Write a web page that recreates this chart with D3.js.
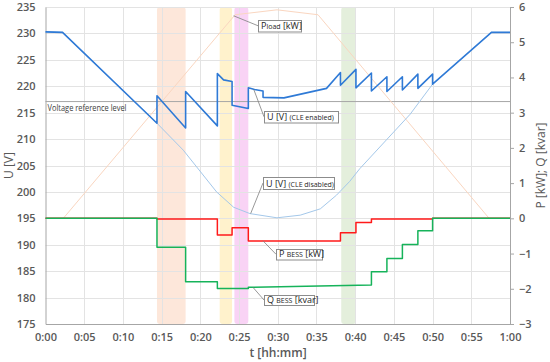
<!DOCTYPE html>
<html>
<head>
<meta charset="utf-8">
<script src="https://cdn.jsdelivr.net/npm/d3@7"></script>
<style>
body { margin: 0; background: #fff; }
text { font-family: "Open Sans", sans-serif; }
</style>
</head>
<body>
<svg></svg>
<script>
// time in minutes, U in volts, P/Q in kW / kvar
var uEnabledT = [0, 2.2, 14.4, 14.4, 18.1, 18.1, 22.2, 22.2, 23.0, 24.1, 24.1, 26.2, 26.2, 27.0, 28.1, 28.1, 30.8, 36.3, 38.1, 38.1, 40.1, 40.1, 42.1, 42.1, 44.1, 44.1, 46.1, 46.1, 48.1, 48.1, 50.0, 50.0, 57.6, 60];
var uEnabledV = [230.3, 230.2, 213.0, 218.2, 212.1, 219.0, 212.5, 222.4, 221.2, 220.9, 216.4, 215.8, 219.7, 219.4, 219.1, 217.9, 217.8, 219.6, 222.6, 220.2, 223.2, 219.7, 222.5, 219.1, 221.8, 219.0, 221.8, 219.3, 222.3, 219.6, 222.3, 220.4, 230.2, 230.2];

var uDisabledT = [0, 2.2, 14.4, 17.8, 22.1, 24.3, 26.4, 29.9, 32.9, 35.5, 37.6, 39.3, 40.6, 47.1, 50.0, 57.6, 60];
var uDisabledV = [230.3, 230.2, 213.0, 207.9, 200.0, 197.1, 195.9, 195.1, 195.6, 196.8, 199.4, 202.0, 204.4, 214.7, 220.4, 230.2, 230.2];

var pLoadT = [0, 2.3, 24.5, 29.9, 35.2, 57.3, 60];
var pLoadV = [0, 0, 5.78, 5.92, 5.78, 0, 0];

var pBessT = [0, 14.4, 14.4, 22.2, 22.2, 24.1, 24.1, 26.2, 26.2, 38.1, 38.1, 40.1, 40.1, 42.1, 42.1, 50.0, 50.0, 60];
var pBessV = [0, 0, -0.02, -0.02, -0.47, -0.47, -0.27, -0.27, -0.64, -0.64, -0.41, -0.41, -0.12, -0.12, -0.02, -0.02, 0, 0];

var qBessT = [0, 14.4, 14.4, 18.1, 18.1, 22.2, 22.2, 26.2, 26.2, 42.1, 42.1, 44.1, 44.1, 46.1, 46.1, 48.1, 48.1, 50.0, 50.0, 60];
var qBessV = [0, 0, -0.82, -0.82, -1.80, -1.80, -1.99, -1.99, -1.96, -1.89, -1.52, -1.52, -1.14, -1.14, -0.74, -0.74, -0.35, -0.35, 0, 0];

var voltageReference = 217.1;

var bandStart = [14.4, 22.5, 24.4, 38.2];
var bandEnd = [18.1, 24.1, 26.2, 40.1];
var bandColor = ['#fde7da', '#fff2cc', '#f9d3f5', '#e4efdc'];

var xTicks = d3.range(0, 61, 5);
var uTicks = d3.range(175, 236, 5);
var pTicks = d3.range(-3, 7, 1);

//Setting up general variables
var width = 550;
var height = 362;
var plotLeft = 45.5, plotRight = 510, plotTop = 7, plotBottom = 324;
var labelFont = '"Liberation Sans", Arial, sans-serif';

var svg = d3.select('svg').attr('width', width).attr('height', height);

var x = d3.scaleLinear().domain([0, 60]).range([plotLeft, plotRight]);
var yU = d3.scaleLinear().domain([175, 235]).range([plotBottom, plotTop]);
var yP = d3.scaleLinear().domain([-3, 6]).range([plotBottom, plotTop]);

var fmtTime = m => Math.floor(m / 60) + ':' + d3.format('02d')(m % 60);

// highlighted intervals
svg.append('g').selectAll('rect')
    .data(bandStart)
    .enter().append('rect')
        .attr('x', (d, i) => x(d))
        .attr('y', plotTop)
        .attr('width', (d, i) => x(bandEnd[i]) - x(d))
        .attr('height', plotBottom - plotTop)
        .attr('rx', 3)
        .attr('fill', (d, i) => bandColor[i]);

// grid
var grid = svg.append('g').attr('stroke', '#e3e3e3').attr('stroke-width', 1);
grid.selectAll('.hg').data(uTicks.slice(1)).enter().append('line')
    .attr('x1', plotLeft).attr('x2', plotRight)
    .attr('y1', d => Math.round(yU(d)) + 0.5).attr('y2', d => Math.round(yU(d)) + 0.5);
grid.selectAll('.vg').data(xTicks.slice(1, -1)).enter().append('line')
    .attr('y1', plotTop).attr('y2', plotBottom)
    .attr('x1', d => Math.round(x(d)) + 0.5).attr('x2', d => Math.round(x(d)) + 0.5);

// voltage reference level
svg.append('line')
    .attr('x1', plotLeft).attr('x2', plotRight)
    .attr('y1', yU(voltageReference)).attr('y2', yU(voltageReference))
    .attr('stroke', '#a6a6a6').attr('stroke-width', 1);
svg.append('text')
    .attr('x', plotLeft + 2).attr('y', yU(voltageReference) + 9.5)
    .attr('font-family', labelFont)
    .attr('font-size', 9).attr('fill', '#404040')
    .attr('textLength', 79).attr('lengthAdjust', 'spacingAndGlyphs')
    .text('Voltage reference level');

// axes
var axisColor = '#a6a6a6';
var xAxis = svg.append('g').attr('transform', `translate(0, ${plotBottom})`)
    .call(d3.axisBottom(x).tickValues(xTicks).tickFormat(fmtTime).tickSize(0).tickPadding(9));
var uAxis = svg.append('g').attr('transform', `translate(${plotLeft}, 0)`)
    .call(d3.axisLeft(yU).tickValues(uTicks).tickSize(0).tickPadding(10));
var pAxis = svg.append('g').attr('transform', `translate(${plotRight}, 0)`)
    .call(d3.axisRight(yP).tickValues(pTicks).tickSize(4).tickPadding(5));

[xAxis, uAxis, pAxis].forEach(a => {
    a.select('.domain').attr('stroke', axisColor);
    a.selectAll('.tick line').attr('stroke', axisColor);
    a.selectAll('text')
        .attr('font-family', '"Open Sans", sans-serif')
        .attr('font-size', 11)
        .attr('font-weight', 600)
        .attr('fill', '#595959');
});

// axis titles
svg.append('text')
    .attr('transform', `translate(13, ${(plotTop + plotBottom) / 2}) rotate(-90)`)
    .attr('text-anchor', 'middle').attr('font-size', 12).attr('fill', '#595959')
    .text('U [V]');
svg.append('text')
    .attr('transform', `translate(545, ${(plotTop + plotBottom) / 2}) rotate(-90)`)
    .attr('text-anchor', 'middle').attr('font-size', 12).attr('fill', '#595959')
    .text('P [kW]; Q [kvar]');
svg.append('text')
    .attr('x', 278).attr('y', 357)
    .attr('text-anchor', 'middle').attr('font-size', 12).attr('font-weight', 600).attr('fill', '#595959')
    .text('t [hh:mm]');

// series
function drawLine(ts, vs, y, color, w) {
    var line = d3.line().x(i => x(ts[i])).y(i => y(vs[i]));
    svg.append('path')
        .attr('d', line(d3.range(ts.length)))
        .attr('fill', 'none')
        .attr('stroke', color)
        .attr('stroke-width', w)
        .attr('stroke-linejoin', 'round');
}

drawLine(pLoadT, pLoadV, yP, '#fad6c0', 1);
drawLine(uDisabledT, uDisabledV, yU, '#a4c8ea', 1);
drawLine(pBessT, pBessV, yP, '#ff1a1a', 1.5);
drawLine(qBessT, qBessV, yP, '#16b35a', 1.5);
drawLine(uEnabledT, uEnabledV, yU, '#2f7ad6', 1.6);

// callouts
function callout(ax, ay, bx, by, bw, bh, parts) {
    var g = svg.append('g');
    g.append('line')
        .attr('x1', ax).attr('y1', ay).attr('x2', bx).attr('y2', by + bh / 2)
        .attr('stroke', '#7f7f7f').attr('stroke-width', 0.8);
    g.append('rect')
        .attr('x', bx + 0.5).attr('y', by + 0.5).attr('width', bw).attr('height', bh)
        .attr('fill', '#fff').attr('stroke', '#8c8c8c').attr('stroke-width', 1);
    var t = g.append('text').attr('x', bx + 3).attr('y', by + bh - 2.5)
        .attr('font-family', labelFont).attr('fill', '#262626');
    parts.forEach(p => t.append('tspan').attr('font-size', p[1]).text(p[0]));
}

callout(x(24.3), yP(5.75), 258, 20, 43, 11.5, [['P', 9], ['load', 7], [' [kW]', 9]]);
callout(x(26.9), yU(219.4), 264, 111, 74, 11.5, [['U [V] ', 9], ['(CLE enabled)', 7]]);
callout(x(26.5), yU(195.9), 263, 177, 71, 12, [['U [V] ', 9], ['(CLE disabled)', 7]]);
callout(x(28.1), yP(-0.64), 276, 249, 46, 10.5, [['P ', 9], ['BESS', 7], [' [kW]', 9]]);
callout(x(26.8), yP(-1.96), 264, 295, 50, 10, [['Q ', 9], ['BESS', 7], [' [kvar]', 9]]);
</script>
</body>
</html>
